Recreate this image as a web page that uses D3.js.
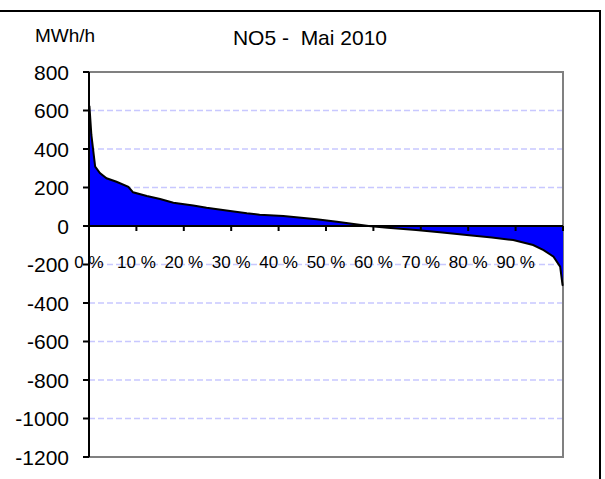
<!DOCTYPE html>
<html>
<head>
<meta charset="utf-8">
<script src="https://d3js.org/d3.v7.min.js"></script>
<style>
body { margin: 0; background: #fff; }
text { font-family: "Liberation Sans", Arial, sans-serif; fill: #000; }
</style>
</head>
<body>
<div id="chart"></div>
<script>
// duration curve: share of hours (%) and MWh/h
var pct = [0, 0.1, 0.5, 1.3, 2.3, 3.7, 5.8, 8.3, 9.3, 12.2, 15, 17.8, 22, 24.8, 29, 33.3,
	36, 41, 48, 52.3, 59, 63, 69, 74, 79.7, 85, 89.5, 93.7, 95.9, 98, 99.4, 99.9, 100];
var mwh = [620, 620, 473, 308, 275, 248, 230, 204, 175, 156, 140, 121, 107, 95, 80, 66,
	59, 52, 35, 22, 0, -9, -21, -33, -47, -60, -73, -99, -125, -159, -211, -306, -310];
var yTicks = [800, 600, 400, 200, 0, -200, -400, -600, -800, -1000, -1200];
var xTicks = [0, 10, 20, 30, 40, 50, 60, 70, 80, 90];

var width = 605, height = 479;
var pLeft = 89, pRight = 563, pTop = 72, pBottom = 457;

var svg = d3.select('#chart').append('svg')
	.attr('width', width)
	.attr('height', height);

var x = d3.scaleLinear().domain([0, 100]).range([pLeft, pRight]);
var y = d3.scaleLinear().domain([-1200, 800]).range([pBottom, pTop]);

// outer frame (top and right only visible)
svg.append('line').attr('x1', 0).attr('x2', 601).attr('y1', 11).attr('y2', 11)
	.style('stroke', '#000').style('stroke-width', 2);
svg.append('line').attr('x1', 600).attr('x2', 600).attr('y1', 11).attr('y2', height)
	.style('stroke', '#000').style('stroke-width', 2);

// grid
svg.selectAll('.grid').data(yTicks.filter(function(d){ return d != 800 && d != 0 && d != -1200; }))
	.enter().append('line').classed('grid', true)
	.attr('x1', pLeft).attr('x2', pRight)
	.attr('y1', function(d){ return y(d); })
	.attr('y2', function(d){ return y(d); })
	.style('stroke', '#c8c8ff')
	.style('stroke-width', 1.5)
	.style('stroke-dasharray', '6,3');

// plot frame
svg.append('path')
	.attr('d', 'M' + pLeft + ',' + pTop + 'H' + pRight + 'V' + pBottom + 'H' + pLeft)
	.style('fill', 'none').style('stroke', '#808080').style('stroke-width', 2);

var pts = d3.zip(pct, mwh);

var area = d3.area()
	.x(function(d){ return x(d[0]); })
	.y0(y(0))
	.y1(function(d){ return y(d[1]); });

svg.append('path').datum(pts)
	.attr('d', area)
	.style('fill', '#0000ff');

// x axis at zero
svg.append('line').attr('x1', pLeft).attr('x2', pRight)
	.attr('y1', y(0)).attr('y2', y(0))
	.style('stroke', '#000').style('stroke-width', 2);
svg.selectAll('.xtick').data(xTicks.concat([100]))
	.enter().append('line').classed('xtick', true)
	.attr('x1', function(d){ return x(d); })
	.attr('x2', function(d){ return x(d); })
	.attr('y1', y(0)).attr('y2', y(0) + 5)
	.style('stroke', '#000').style('stroke-width', 2);

var line = d3.line()
	.x(function(d){ return x(d[0]); })
	.y(function(d){ return y(d[1]); });

svg.append('path').datum(pts)
	.attr('d', line)
	.style('fill', 'none')
	.style('stroke', '#000')
	.style('stroke-width', 2);

// y axis
svg.append('line').attr('x1', pLeft).attr('x2', pLeft).attr('y1', pTop).attr('y2', pBottom)
	.style('stroke', '#000').style('stroke-width', 2);
svg.selectAll('.ytick').data(yTicks)
	.enter().append('line').classed('ytick', true)
	.attr('x1', pLeft - 6).attr('x2', pLeft)
	.attr('y1', function(d){ return y(d); })
	.attr('y2', function(d){ return y(d); })
	.style('stroke', '#000').style('stroke-width', 2);

svg.selectAll('.ylab').data(yTicks)
	.enter().append('text').classed('ylab', true)
	.attr('x', 69)
	.attr('y', function(d){ return y(d) + 7.5; })
	.attr('text-anchor', 'end')
	.style('font-size', '21px')
	.text(function(d){ return d; });

svg.selectAll('.xlab').data(xTicks)
	.enter().append('text').classed('xlab', true)
	.attr('x', function(d){ return x(d); })
	.attr('y', 268)
	.attr('text-anchor', 'middle')
	.style('font-size', '17px')
	.text(function(d){ return d + ' %'; });

svg.append('text').attr('x', 35).attr('y', 42)
	.style('font-size', '19px')
	.text('MWh/h');

svg.append('text').attr('x', 310).attr('y', 45)
	.attr('text-anchor', 'middle')
	.style('font-size', '21px')
	.attr('xml:space', 'preserve')
	.text('NO5 -  Mai 2010');
</script>
</body>
</html>
